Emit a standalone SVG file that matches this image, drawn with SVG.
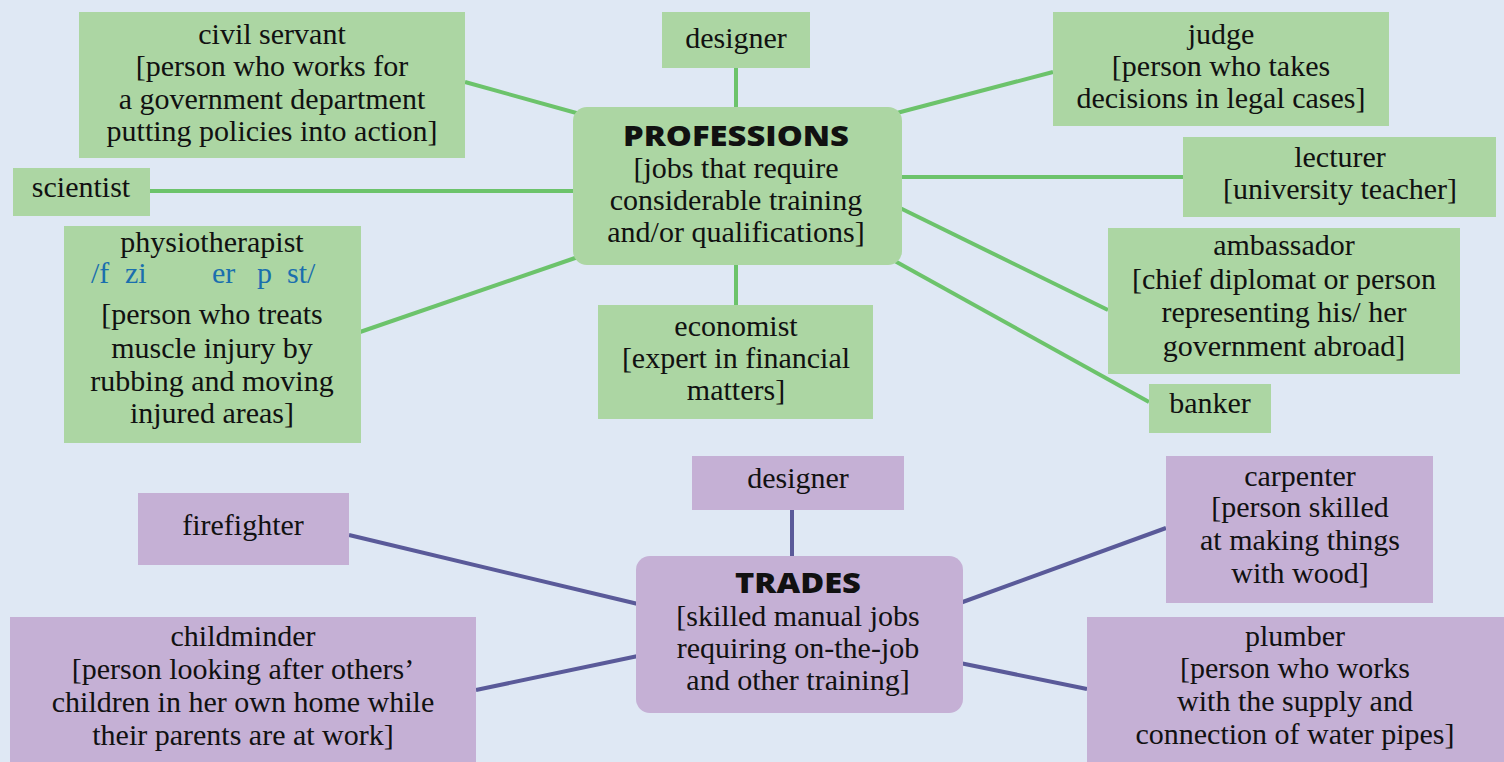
<svg xmlns="http://www.w3.org/2000/svg" width="1504" height="762" viewBox="0 0 1504 762">
<style>
.g{fill:#acd6a3}
.p{fill:#c5b0d5}
svg text.t{font-family:"Liberation Serif",serif !important;font-size:30px;fill:#111;text-anchor:middle}
svg text.h{font-family:"Open Sans",sans-serif !important;font-weight:800;font-size:29px;fill:#111;text-anchor:middle}
svg text.ph{fill:#1a6fae;text-anchor:start}
.cg line{stroke:#6cc36b;stroke-width:4}
.cp line{stroke:#5a5a99;stroke-width:4}
</style>
<rect width="1504" height="762" fill="#dfe8f4"/>
<g id="connectors">
<g class="cg">
<line x1="465" y1="82" x2="580" y2="114"/>
<line x1="736" y1="68" x2="736" y2="110"/>
<line x1="1053" y1="72" x2="893" y2="114"/>
<line x1="150" y1="191" x2="575" y2="191"/>
<line x1="900" y1="177" x2="1183" y2="177"/>
<line x1="360" y1="332" x2="578" y2="257"/>
<line x1="736" y1="263" x2="736" y2="305"/>
<line x1="900" y1="208" x2="1108" y2="310"/>
<line x1="893" y1="260" x2="1149" y2="402"/>
</g>
<g class="cp">
<line x1="792" y1="510" x2="792" y2="558"/>
<line x1="349" y1="535" x2="638" y2="604"/>
<line x1="960" y1="603" x2="1166" y2="528"/>
<line x1="476" y1="690" x2="638" y2="656"/>
<line x1="960" y1="663" x2="1087" y2="689"/>
</g>
</g>
<g id="professions">
<rect class="g" x="573" y="107" width="329" height="158" rx="14"/>
<text class="h" style="font-family:'Open Sans',sans-serif" x="736" y="146" textLength="226" lengthAdjust="spacingAndGlyphs">PROFESSIONS</text>
<text class="t" style="font-family:'Liberation Serif',serif" x="736" y="178">[jobs that require</text>
<text class="t" style="font-family:'Liberation Serif',serif" x="736" y="210">considerable training</text>
<text class="t" style="font-family:'Liberation Serif',serif" x="736" y="242">and/or qualifications]</text>
</g>
<g id="civil-servant">
<rect class="g" x="79" y="12" width="386" height="146"/>
<text class="t" style="font-family:'Liberation Serif',serif" x="272" y="44">civil servant</text>
<text class="t" style="font-family:'Liberation Serif',serif" x="272" y="76">[person who works for</text>
<text class="t" style="font-family:'Liberation Serif',serif" x="272" y="109">a government department</text>
<text class="t" style="font-family:'Liberation Serif',serif" x="272" y="141">putting policies into action]</text>
</g>
<g id="designer-p">
<rect class="g" x="662" y="12" width="148" height="56"/>
<text class="t" style="font-family:'Liberation Serif',serif" x="736" y="48">designer</text>
</g>
<g id="judge">
<rect class="g" x="1053" y="12" width="336" height="114"/>
<text class="t" style="font-family:'Liberation Serif',serif" x="1221" y="44">judge</text>
<text class="t" style="font-family:'Liberation Serif',serif" x="1221" y="76">[person who takes</text>
<text class="t" style="font-family:'Liberation Serif',serif" x="1221" y="108">decisions in legal cases]</text>
</g>
<g id="lecturer">
<rect class="g" x="1183" y="137" width="313" height="80"/>
<text class="t" style="font-family:'Liberation Serif',serif" x="1340" y="167">lecturer</text>
<text class="t" style="font-family:'Liberation Serif',serif" x="1340" y="199">[university teacher]</text>
</g>
<g id="scientist">
<rect class="g" x="13" y="168" width="137" height="48"/>
<text class="t" style="font-family:'Liberation Serif',serif" x="81" y="197">scientist</text>
</g>
<g id="physiotherapist">
<rect class="g" x="64" y="226" width="297" height="217"/>
<text class="t" style="font-family:'Liberation Serif',serif" x="212" y="252">physiotherapist</text>
<text class="t ph" style="font-family:'Liberation Serif',serif" y="283"><tspan x="91">/f</tspan><tspan x="125">zi</tspan><tspan x="212">er</tspan><tspan x="257">p</tspan><tspan x="287">st/</tspan></text>
<text class="t" style="font-family:'Liberation Serif',serif" x="212" y="324">[person who treats</text>
<text class="t" style="font-family:'Liberation Serif',serif" x="212" y="358">muscle injury by</text>
<text class="t" style="font-family:'Liberation Serif',serif" x="212" y="391">rubbing and moving</text>
<text class="t" style="font-family:'Liberation Serif',serif" x="212" y="423">injured areas]</text>
</g>
<g id="economist">
<rect class="g" x="598" y="305" width="275" height="114"/>
<text class="t" style="font-family:'Liberation Serif',serif" x="736" y="336">economist</text>
<text class="t" style="font-family:'Liberation Serif',serif" x="736" y="368">[expert in financial</text>
<text class="t" style="font-family:'Liberation Serif',serif" x="736" y="400">matters]</text>
</g>
<g id="ambassador">
<rect class="g" x="1108" y="228" width="352" height="146"/>
<text class="t" style="font-family:'Liberation Serif',serif" x="1284" y="255">ambassador</text>
<text class="t" style="font-family:'Liberation Serif',serif" x="1284" y="289">[chief diplomat or person</text>
<text class="t" style="font-family:'Liberation Serif',serif" x="1284" y="322">representing his/ her</text>
<text class="t" style="font-family:'Liberation Serif',serif" x="1284" y="356">government abroad]</text>
</g>
<g id="banker">
<rect class="g" x="1149" y="384" width="122" height="49"/>
<text class="t" style="font-family:'Liberation Serif',serif" x="1210" y="413">banker</text>
</g>
<g id="trades">
<rect class="p" x="636" y="556" width="327" height="157" rx="14"/>
<text class="h" style="font-family:'Open Sans',sans-serif" x="798" y="593" textLength="126" lengthAdjust="spacingAndGlyphs">TRADES</text>
<text class="t" style="font-family:'Liberation Serif',serif" x="798" y="626">[skilled manual jobs</text>
<text class="t" style="font-family:'Liberation Serif',serif" x="798" y="658">requiring on-the-job</text>
<text class="t" style="font-family:'Liberation Serif',serif" x="798" y="690">and other training]</text>
</g>
<g id="designer-t">
<rect class="p" x="692" y="456" width="212" height="54"/>
<text class="t" style="font-family:'Liberation Serif',serif" x="798" y="488">designer</text>
</g>
<g id="firefighter">
<rect class="p" x="138" y="493" width="211" height="72"/>
<text class="t" style="font-family:'Liberation Serif',serif" x="243" y="535">firefighter</text>
</g>
<g id="carpenter">
<rect class="p" x="1166" y="456" width="267" height="147"/>
<text class="t" style="font-family:'Liberation Serif',serif" x="1300" y="486">carpenter</text>
<text class="t" style="font-family:'Liberation Serif',serif" x="1300" y="517">[person skilled</text>
<text class="t" style="font-family:'Liberation Serif',serif" x="1300" y="550">at making things</text>
<text class="t" style="font-family:'Liberation Serif',serif" x="1300" y="583">with wood]</text>
</g>
<g id="childminder">
<rect class="p" x="10" y="617" width="466" height="145"/>
<text class="t" style="font-family:'Liberation Serif',serif" x="243" y="646">childminder</text>
<text class="t" style="font-family:'Liberation Serif',serif" x="243" y="679">[person looking after others’</text>
<text class="t" style="font-family:'Liberation Serif',serif" x="243" y="712">children in her own home while</text>
<text class="t" style="font-family:'Liberation Serif',serif" x="243" y="745">their parents are at work]</text>
</g>
<g id="plumber">
<rect class="p" x="1087" y="617" width="417" height="145"/>
<text class="t" style="font-family:'Liberation Serif',serif" x="1295" y="646">plumber</text>
<text class="t" style="font-family:'Liberation Serif',serif" x="1295" y="678">[person who works</text>
<text class="t" style="font-family:'Liberation Serif',serif" x="1295" y="711">with the supply and</text>
<text class="t" style="font-family:'Liberation Serif',serif" x="1295" y="744">connection of water pipes]</text>
</g>
</svg>
